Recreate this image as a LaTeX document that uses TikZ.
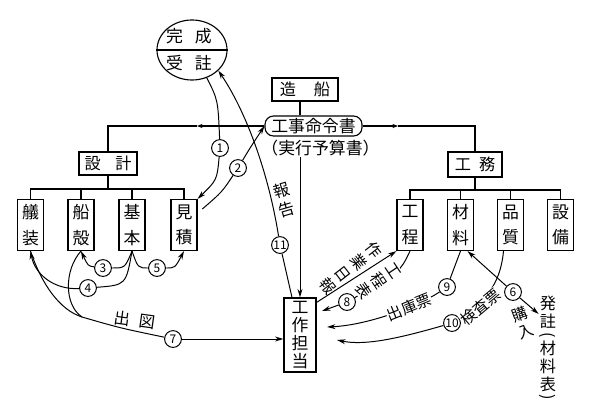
\documentclass[tikz,border=0pt]{standalone}
\usepackage{fontspec}
\setmainfont{Noto Sans CJK JP}
\usepackage{tikz}
\usetikzlibrary{shapes.geometric, arrows.meta, positioning}

\newcommand{\vparl}{\rotatebox[origin=c]{-90}{(}}
\newcommand{\vparr}{\rotatebox[origin=c]{-90}{)}}

\begin{document}
\begin{tikzpicture}[x=0.025cm, y=-0.025cm, line width=0.7pt,
  hbox/.style={draw, line width=0.8pt, inner sep=0pt, font=\fontsize{11.5}{14}\selectfont},
  vbox/.style={draw, line width=0.8pt, inner sep=0pt, align=center, minimum width=0.65cm, minimum height=1.275cm, font=\fontsize{12}{18}\selectfont},
  num/.style={circle, draw, fill=white, inner sep=0pt, minimum size=0.42cm, font=\fontsize{8.5}{9}\selectfont},
  lbl/.style={inner sep=0.5pt, align=center, font=\fontsize{11}{13}\selectfont},
  bus/.style={line width=1.1pt},
  arr/.style={-{Stealth[length=6pt, width=3.5pt]}},
  midarr/.style={-{Stealth[length=4pt, width=3pt]}}]
  \useasboundingbox (0,0) rectangle (600,403);

  %% order circle
  \node[draw, ellipse, line width=0.8pt, minimum width=1.75cm, minimum height=1.5cm] (order) at (192,50) {};
  \draw[line width=0.8pt] (order.west) -- (order.east);
  \node[font=\fontsize{12}{14}\selectfont] (kansei) at (189,36) {完\hspace{.7em}成};
  \node[font=\fontsize{12}{14}\selectfont] (juchu) at (189,63) {受\hspace{.7em}註};

  %% boxes
  \node[hbox, minimum width=1.65cm, minimum height=0.575cm] (zosen) at (305,89.5) {造\hspace{1.1em}船};
  \node[hbox, rounded corners=6pt, minimum width=2.425cm, minimum height=0.5cm, font=\fontsize{12}{14}\selectfont] (cmd) at (313.5,126) {工事命令書};
  \node[lbl, font=\fontsize{12}{14}\selectfont] (yosan) at (320.5,148) {（実行予算書）};
  \node[hbox, minimum width=1.45cm, minimum height=0.575cm] (sekkei) at (108,163.5) {設\hspace{.9em}計};
  \node[hbox, minimum width=1.35cm, minimum height=0.625cm] (koumu) at (475,164.5) {工\hspace{.5em}務};

  \node[vbox] (giso) at (30.5,225) {艤\\装};
  \node[vbox] (senkaku) at (81,225) {船\\殻};
  \node[vbox] (kihon) at (132,225) {基\\本};
  \node[vbox] (mitsu) at (184,225) {見\\積};
  \node[vbox] (koutei) at (410,225) {工\\程};
  \node[vbox] (zairyo) at (460.5,225) {材\\料};
  \node[vbox] (hinshitsu) at (510.5,225) {品\\質};
  \node[vbox] (setsubi) at (560.5,225) {設\\備};
  \node[vbox, minimum width=0.8cm, minimum height=1.85cm, font=\fontsize{12}{12.8}\selectfont] (tanto) at (300,335) {工\\作\\担\\当};

  %% numbers
  \node[num] (n1) at (220,148) {1};
  \node[num] (n2) at (238,168) {2};
  \node[num] (n3) at (103,268) {3};
  \node[num] (n4) at (88,288) {4};
  \node[num] (n5) at (157,268) {5};
  \node[num] (n6) at (513,292) {6};
  \node[num] (n7) at (173,339) {7};
  \node[num] (n8) at (347,302) {8};
  \node[num] (n9) at (447,287) {9};
  \node[num] (n10) at (452,323) {10};
  \node[num] (n11) at (280,245) {11};

  \node[lbl, font=\fontsize{11.5}{12.8}\selectfont] (hatchu) at (548,349)
    {発\\註\\[-3.5pt]\vparl\\[-2.8pt]材\\料\\表\\[-4.2pt]\vparr};

  %% tree
  \coordinate (lm) at (197,126);
  \coordinate (rm) at (398,126);
  \coordinate (lbus) at (108,189);
  \coordinate (rbus) at (475,190);
  \draw[bus] (zosen.south -| tanto.north) -- (cmd.north -| tanto.north);
  \draw[bus, midarr] (cmd.west) -- (lm);
  \draw[bus] (lm) -- (sekkei.north |- lm) -- (sekkei.north);
  \draw[bus, midarr] (cmd.east) -- (rm);
  \draw[bus] (rm) -- (koumu.north |- rm) -- (koumu.north);
  \draw[bus] (sekkei.south) -- (lbus);
  \draw[bus] (giso.north) |- (mitsu.north |- lbus) -- (mitsu.north);
  \foreach \b in {senkaku, kihon}
    \draw[bus] (\b.north) -- (\b.north |- lbus);
  \draw[bus] (koumu.south) -- (rbus);
  \draw[bus] (koutei.north) |- (setsubi.north |- rbus) -- (setsubi.north);
  \foreach \b in {zairyo, hinshitsu}
    \draw[bus] (\b.north) -- (\b.north |- rbus);
  \draw[arr] (tanto.north |- yosan.south) -- (tanto.north);

  %% order flow
  \draw (order.-62) .. controls (218,100) .. (n1);
  \draw[arr] (n1) .. controls (217,180) .. (mitsu.north east);
  \draw ([xshift=0.12cm, yshift=0.4cm]mitsu.east) .. controls (222,192) .. (n2);
  \draw[arr] (n2) .. controls (250,148) .. (cmd.west);
  \draw ([xshift=-0.2cm]tanto.north) .. controls (287,275) .. (n11);
  \draw[arr] (n11) .. controls (268,170) and (245,110) .. (order.-38);
  \node[lbl, rotate=16, font=\fontsize{11.5}{14}\selectfont] (hokoku) at (284,200) {報\\告};

  %% design
  \draw (kihon.south) .. controls (125,268) .. (n3);
  \draw[arr] (n3) .. controls (88,266) .. (senkaku.south);
  \draw (kihon.south) .. controls (126,285) .. (n4);
  \draw[arr] (n4) .. controls (55,290) and (35,275) .. (giso.south);
  \draw (kihon.south) .. controls (138,268) .. (n5);
  \draw[arr] (n5) .. controls (175,268) .. (mitsu.south);

  %% drawings issued
  \coordinate (sz) at (82,317);
  \draw (giso.south) .. controls (42,285) and (60,310) .. (sz);
  \draw (senkaku.south) .. controls (64,270) and (64,305) .. (sz);
  \draw (sz) .. controls (120,328) .. (n7);
  \draw[arr] (n7) -- (tanto.west |- n7);
  \node[lbl, rotate=-8, font=\fontsize{11.5}{14}\selectfont] (shutsuzu) at (135,320) {出\hspace{.6em}図};

  %% works
  \coordinate (t8) at (322,311);
  \coordinate (t9) at (327,327);
  \coordinate (t10) at (337,340);
  \draw[arr] ([yshift=-0.125cm]tanto.north east) -- (koutei.south west);
  \node[lbl, rotate=-52, font=\fontsize{11}{14}\selectfont] (nippo) at (351,268) {作\\業\\日\\報};
  \draw (koutei.south) .. controls (400,272) .. (n8);
  \draw[arr] (n8) -- (t8);
  \draw (zairyo.south) -- (n9);
  \draw[arr] (n9) .. controls (420,305) and (370,325) .. (t9);
  \draw (hinshitsu.-105) .. controls (501,278) and (490,300) .. (n10);
  \draw[arr] (n10) .. controls (400,338) and (365,346) .. (t10);
  \draw[arr] (n6) -- (zairyo.-75);
  \draw[arr] (n6) -- (hatchu.105);
  \node[lbl, rotate=20] (kounyu) at (523,323) {購\\入};

  %% labels on lines
  \node[lbl, fill=white, rotate=-56] (kouteihyo) at (378,281) {工\\程\\表};
  \node[lbl, fill=white, rotate=22] (shukko) at (409,307) {出庫票};
  \node[lbl, fill=white, rotate=40] (kensa) at (481,307) {検査票};
\end{tikzpicture}
\end{document}
